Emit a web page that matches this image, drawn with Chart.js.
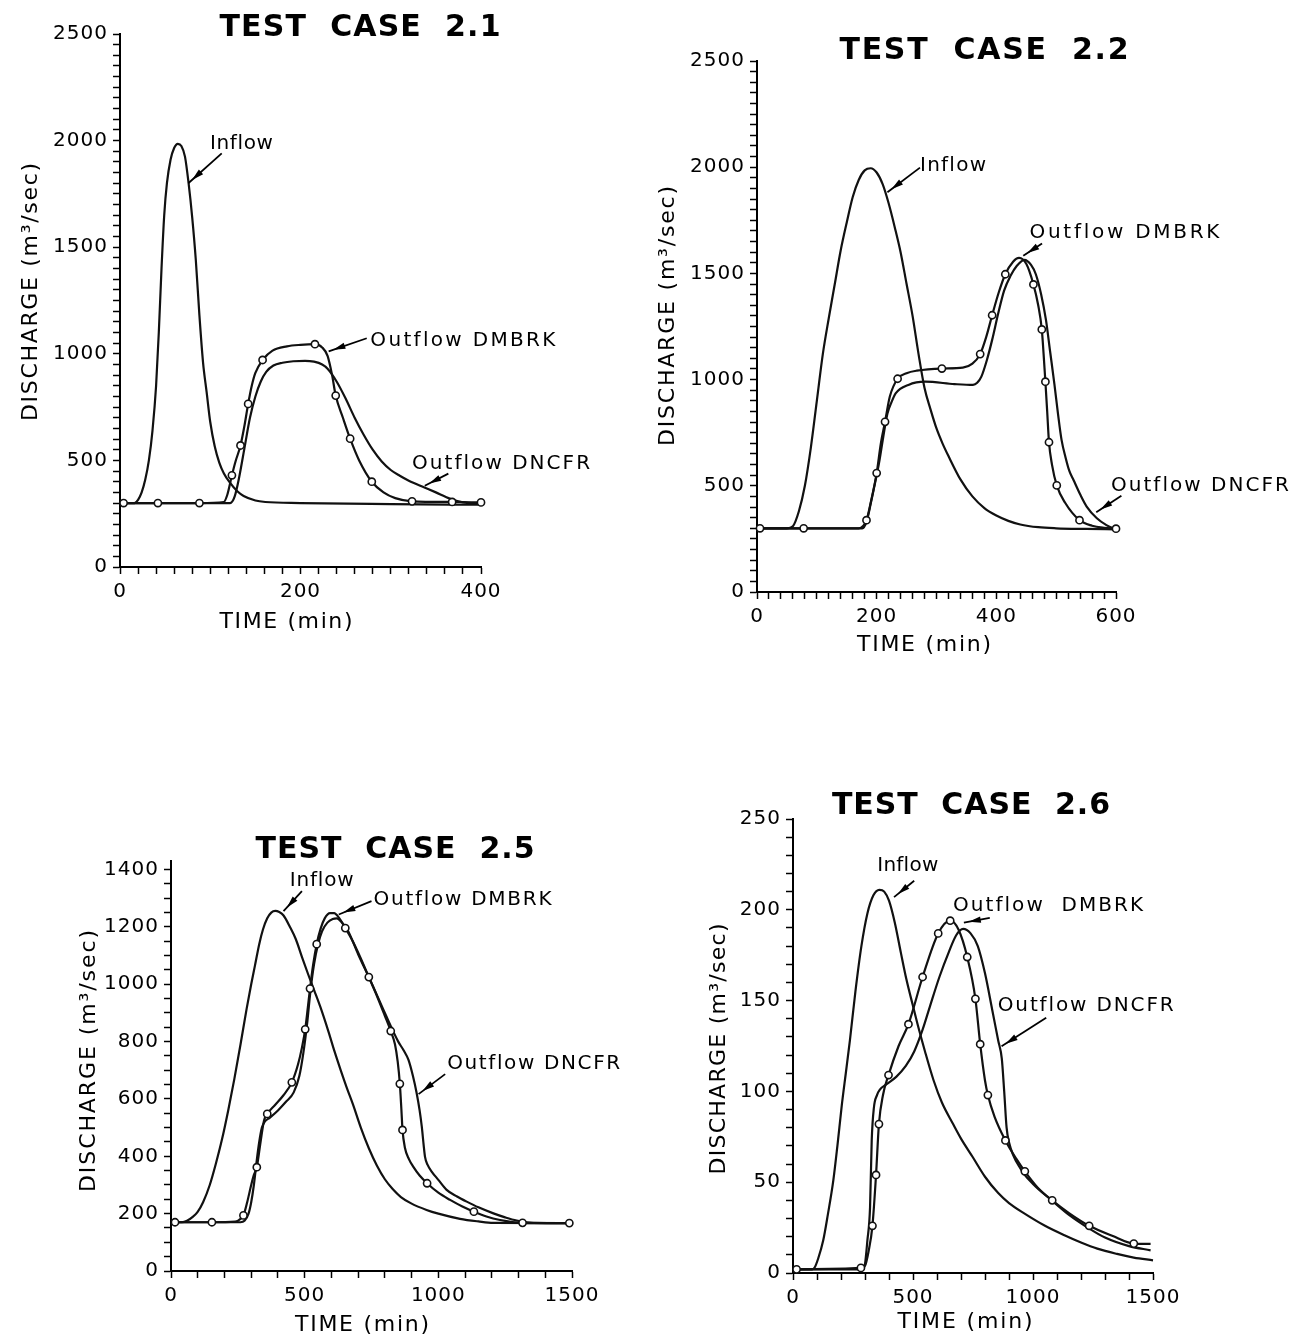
<!DOCTYPE html>
<html>
<head>
<meta charset="utf-8">
<script src="https://cdn.jsdelivr.net/npm/chart.js@4.4.0/dist/chart.umd.min.js"></script>
<style>
html,body{margin:0;padding:0;background:#fff;}
body{width:1292px;height:1340px;position:relative;overflow:hidden;}
canvas{position:absolute;}
</style>
</head>
<body>
<canvas id="c1" width="640" height="660" style="left:0;top:0"></canvas>
<canvas id="c2" width="652" height="660" style="left:640px;top:0"></canvas>
<canvas id="c3" width="640" height="680" style="left:0;top:660px"></canvas>
<canvas id="c4" width="652" height="680" style="left:640px;top:660px"></canvas>
<script>
// ---------------- DATA ----------------
const titles = ['TEST  CASE  2.1', 'TEST  CASE  2.2', 'TEST  CASE  2.5', 'TEST  CASE  2.6'];
const yAxisTitle = 'DISCHARGE (m³/sec)';
const xAxisTitle = 'TIME (min)';

// Test case 2.1
const p1InflowT = [0,16,20,24,28,32,36,40,43,46,49,52,56,60,64,68,72,76,80,84,88,92,96,100,105,110,115,121,130,137,150,161,200,300,400];
const p1InflowQ = [300,300,315,350,410,500,640,850,1100,1400,1650,1800,1910,1965,1985,1975,1925,1800,1640,1440,1180,960,820,680,565,490,440,400,355,333,312,305,300,295,292];
const p1DmbrkT = [0,4,42,88,115,119,124,128,133.5,138,142,146,150,158,169,185,200,216,224,230,235,239,247,255,265,279,292,305,323.6,368,400];
const p1DmbrkQ = [300,300,300,300,305,340,430,495,570,665,765,850,910,971,1015,1035,1042,1045,1030,990,900,804,700,602,500,400,350,323,308,305,303];
const p1DmbrkMarks = [4,42,88,124,133.5,142,158,216,239,255,279,323.6,368,400];
const p1DncfrT = [0,122,127,132,138,144,150,156,162,170,180,192,205,215,224,230,240,250,260,270,280,290,300,310,320,338,350,366,380,400];
const p1DncfrQ = [300,300,330,420,560,700,800,870,915,945,958,965,967,963,950,930,870,790,700,620,550,495,455,428,405,372,350,320,303,296];
const p1XLabels = [0,200,400];
const p1YLabels = [0,500,1000,1500,2000,2500];

// Test case 2.2
const p2InflowT = [0,50,60,70,80,90,100,110,120,130,140,150,160,170,180,190,200,210,220,230,240,250,260,270,280,290,300,310,320,340,360,380,400,420,440,470,500,550,600];
const p2InflowQ = [300,300,310,380,500,680,900,1120,1290,1450,1610,1740,1860,1940,1985,1995,1975,1920,1830,1720,1600,1450,1300,1120,960,860,770,700,640,530,450,395,360,335,318,305,300,297,295];
const p2DmbrkT = [0,5,78,170,183,190,200,207,214,222,235,250,267,309,344,360,373,383,393,404,415,428,438,450,462,470,476,479,482,485,488,493,501,515,539,560,580,600];
const p2DmbrkQ = [300,300,300,300,338,420,560,700,801,920,1004,1030,1042,1052,1056,1075,1120,1200,1303,1410,1496,1555,1573,1545,1448,1350,1236,1120,990,850,705,600,502,420,338,312,302,298];
const p2DmbrkMarks = [5,78,183,200,214,235,309,373,393,415,462,476,482,488,501,539,600];
const p2DncfrT = [0,176,183,190,197,204,211,218,225,232,253,281,330,361,368,375,384,393,403,413,424,434,447,458,466,475,483,490,497,503,509,516,522,529,540,551,568,584,596,600];
const p2DncfrQ = [300,300,330,415,510,608,730,840,895,936,975,990,979,975,985,1014,1090,1187,1310,1419,1490,1535,1564,1540,1496,1400,1280,1130,980,840,716,630,570,527,460,402,347,315,300,298];
const p2XLabels = [0,200,400,600];
const p2YLabels = [0,500,1000,1500,2000,2500];

// Test case 2.5
const p3InflowT = [0,40,60,80,99,120,145,168,191,214,237,260,283,300,314,330,344,360,375,390,405,421,445,467,490,513,536,559,589,612,635,658,681,710,740,770,800,830,860,900,956,1000,1081,1150,1205,1500];
const p3InflowQ = [170,170,175,188,205,240,300,375,460,560,670,790,915,1000,1065,1140,1191,1230,1250,1256,1252,1240,1200,1157,1095,1035,978,920,835,765,700,638,580,500,428,368,320,285,258,235,213,200,182,173,168,167];
const p3DmbrkT = [0,15,153,240,260,271,285,300,310,321,335,348,360,390,420,452,475,490,502,512,520,532,545,560,575,595,610,630,652,680,710,740,770,800,822,838,848,856,862,866,875,890,906,930,958,1000,1044,1090,1133,1180,1231,1315,1400,1490];
const p3DmbrkQ = [170,170,170,172,182,194,240,300,335,362,450,525,548,580,612,658,720,780,843,920,985,1070,1140,1195,1230,1248,1248,1230,1196,1150,1090,1025,960,890,837,790,730,653,560,492,430,390,364,333,306,273,248,225,207,190,178,168,167,167];
const p3DmbrkMarks = [15,153,271,321,360,452,502,520,545,652,740,822,856,866,958,1133,1315,1490];
const p3DncfrT = [0,260,275,290,300,310,320,330,340,350,370,400,430,459,480,495,510,522,535,550,565,585,605,620,640,660,700,750,800,850,870,888,905,919,930,938,945,950,960,975,1000,1031,1070,1106,1150,1206,1250,1293,1356,1500];
const p3DncfrQ = [170,170,175,200,240,300,380,450,500,520,535,560,590,623,680,760,870,980,1070,1140,1185,1215,1228,1230,1215,1190,1105,1005,900,800,770,737,680,620,560,504,440,399,370,347,318,283,260,242,222,201,187,176,168,167];
const p3XLabels = [0,500,1000,1500];
const p3YLabels = [0,200,400,600,800,1000,1200,1400];

// Test case 2.6
const p4InflowT = [0,80,90,105,126,145,168,185,203,220,237,260,285,310,335,360,380,400,424,450,472,500,521,550,586,620,667,700,748,800,855,900,965,1050,1131,1200,1268,1350,1420,1500];
const p4InflowQ = [2,2,3,8,18,32,51,70,92,110,128,155,180,198,208,211,210,205,193,176,162,147,136,122,106,94,82,74,64,53,44,38.5,32.7,26,20.8,16.8,13.4,10.5,8.5,7];
const p4DmbrkT = [0,15,283,300,315,331,346,358,375,398,440,481,540,605,655,690,726,760,780,800,812,840,885,930,966,1020,1080,1150,1234,1330,1420,1490];
const p4DmbrkQ = [2,2,2.8,4,12,26,54,82,98,109,125,137,163,187,194,189,174,151,126,106,98,86,73,63,56,47,40,33,26,20.5,16.2,16];
const p4DmbrkMarks = [15,283,331,346,358,398,481,540,605,655,726,760,780,812,885,966,1080,1234,1420];
const p4DncfrT = [0,290,300,310,321,328,337,350,362,390,430,470,505,540,571,610,650,680,709,740,770,800,830,855,870,880,890,900,950,1000,1078,1150,1234,1300,1400,1490];
const p4DncfrQ = [2,2,5,18,36,73,91,98,101,104,108,114,122,134,147,163,177,186,189.5,187,180,165,145,128,118,100,80,72,57,49,40,32,24.5,19.5,14.8,12.5];
const p4XLabels = [0,500,1000,1500];
const p4YLabels = [0,50,100,150,200,250];

// ---------------- DRAWING ----------------
const FAM = '"DejaVu Sans", "Liberation Sans", sans-serif';
Chart.defaults.font.family = FAM;
Chart.defaults.color = '#000';

function series(T, Q) { return T.map((t, i) => ({x: t, y: Q[i]})); }

function spaced(ctx, text, x, y, font, width, rot, align) {
  ctx.save();
  ctx.letterSpacing = '0px';
  ctx.font = font;
  const chars = [...text];
  const ws = chars.map(c => ctx.measureText(c).width);
  const natural = ws.reduce((a, b) => a + b, 0);
  const gap = width ? (width - natural) / Math.max(1, chars.length - 1) : 0;
  const total = natural + gap * (chars.length - 1);
  ctx.translate(x, y);
  ctx.rotate(rot || 0);
  ctx.textBaseline = 'middle';
  ctx.textAlign = 'left';
  let cx = align === 'left' ? 0 : -total / 2;
  chars.forEach((c, i) => { ctx.fillText(c, cx, 0); cx += ws[i] + gap; });
  ctx.restore();
}

function arrow(ctx, x0, y0, x1, y1) {
  ctx.save();
  ctx.lineWidth = 1.8;
  ctx.beginPath(); ctx.moveTo(x0, y0); ctx.lineTo(x1, y1); ctx.stroke();
  const a = Math.atan2(y1 - y0, x1 - x0);
  const back = 5, L = 12, W = 3.2;
  const tx = x1 - Math.cos(a) * back, ty = y1 - Math.sin(a) * back;
  const bx = tx - Math.cos(a) * L, by = ty - Math.sin(a) * L;
  ctx.beginPath();
  ctx.moveTo(tx, ty);
  ctx.lineTo(bx - Math.sin(a) * W, by + Math.cos(a) * W);
  ctx.lineTo(bx + Math.sin(a) * W, by - Math.cos(a) * W);
  ctx.closePath(); ctx.fill();
  ctx.restore();
}

const overlayPlugin = {
  id: 'overlay',
  beforeDraw(chart) { chart.ctx.letterSpacing = '1px'; },
  afterDraw(chart, args, o) {
    const ctx = chart.ctx, xs = chart.scales.x, ys = chart.scales.y;
    ctx.save();
    ctx.fillStyle = '#000'; ctx.strokeStyle = '#000';
    spaced(ctx, o.title, o.titlePos[0] - o.off[0], o.titlePos[1] - o.off[1], 'bold 30px ' + FAM, o.titlePos[2], 0, 'center');
    spaced(ctx, xAxisTitle, o.xTitlePos[0] - o.off[0], o.xTitlePos[1] - o.off[1], '22px ' + FAM, o.xTitlePos[2], 0, 'center');
    spaced(ctx, yAxisTitle, o.yTitlePos[0] - o.off[0], o.yTitlePos[1] - o.off[1], '22px ' + FAM, o.yTitlePos[2], -Math.PI / 2, 'center');
    for (const n of o.notes) {
      spaced(ctx, n.text, xs.getPixelForValue(n.x), ys.getPixelForValue(n.y), '20px ' + FAM, n.w, 0, 'left');
      arrow(ctx, xs.getPixelForValue(n.a[0]), ys.getPixelForValue(n.a[1]), xs.getPixelForValue(n.a[2]), ys.getPixelForValue(n.a[3]));
    }
    ctx.restore();
    ctx.letterSpacing = '0px';
  }
};

function lineDs(data, marks) {
  return {
    data: data,
    borderColor: '#111', borderWidth: 2.2,
    cubicInterpolationMode: 'monotone', fill: false, clip: 12,
    pointRadius: marks ? (c => (c.raw && marks.includes(c.raw.x)) ? 3.6 : 0) : 0,
    pointHoverRadius: 0,
    pointBackgroundColor: '#fff', pointBorderColor: '#111', pointBorderWidth: 1.6
  };
}

function makeChart(id, P) {
  new Chart(document.getElementById(id), {
    type: 'line',
    data: {datasets: [
      lineDs(series(P.dmT, P.dmQ), P.marks),
      lineDs(series(P.dnT, P.dnQ)),
      lineDs(series(P.inT, P.inQ))
    ]},
    options: {
      responsive: false, animation: false, events: [],
      layout: {padding: {left: 0, top: P.padTop, right: P.padRight, bottom: 0}},
      plugins: {legend: {display: false}, tooltip: {enabled: false}, title: {display: false}, overlay: P.overlay},
      scales: {
        x: {
          type: 'linear', min: 0, max: P.xMax,
          afterFit: s => { s.height = P.xH; },
          ticks: {stepSize: P.xStep, autoSkip: false, maxRotation: 0, minRotation: 0, color: '#000',
            font: {size: 20}, padding: 6, includeBounds: false,
            callback: v => P.xLabels.includes(v) ? String(v) : ''},
          grid: {drawOnChartArea: false, drawTicks: true, tickLength: 7, tickColor: '#000', tickWidth: 1.5},
          border: {display: true, color: '#000', width: 2}
        },
        y: {
          type: 'linear', min: 0, max: P.yMax,
          afterFit: s => { s.width = P.yW; },
          afterBuildTicks: s => { s.ticks = s.ticks.filter(t => Math.abs(t.value / P.yStep - Math.round(t.value / P.yStep)) < 1e-6); },
          ticks: {stepSize: P.yStep, autoSkip: false, color: '#000', font: {size: 20}, padding: 5, includeBounds: false,
            callback: v => P.yLabels.includes(v) ? String(v) : ''},
          grid: {drawOnChartArea: false, drawTicks: true, tickLength: 7, tickColor: '#000', tickWidth: 1.5},
          border: {display: true, color: '#000', width: 2}
        }
      }
    },
    plugins: [overlayPlugin]
  });
}

makeChart('c1', {
  inT: p1InflowT, inQ: p1InflowQ, dmT: p1DmbrkT, dmQ: p1DmbrkQ, marks: p1DmbrkMarks, dnT: p1DncfrT, dnQ: p1DncfrQ,
  xLabels: p1XLabels, yLabels: p1YLabels,
  xMax: 400, xStep: 20, yMax: 2500, yStep: 50,
  padTop: 34, padRight: 159, yW: 120, xH: 93,
  overlay: {off: [0, 0], title: titles[0], titlePos: [360, 28, 281], xTitlePos: [286, 622, 133], yTitlePos: [31, 292, 258],
    notes: [
      {text: 'Inflow', x: 99.7, y: 1987, w: 63, a: [112.7, 1940, 75.7, 1800]},
      {text: 'Outflow DMBRK', x: 277.4, y: 1063, w: 185, a: [273.4, 1073, 231.2, 1011.5]},
      {text: 'Outflow DNCFR', x: 323.6, y: 482.7, w: 178, a: [363.8, 438, 337.7, 380.8]}
    ]}
});

makeChart('c2', {
  inT: p2InflowT, inQ: p2InflowQ, dmT: p2DmbrkT, dmQ: p2DmbrkQ, marks: p2DmbrkMarks, dnT: p2DncfrT, dnQ: p2DncfrQ,
  xLabels: p2XLabels, yLabels: p2YLabels,
  xMax: 600, xStep: 20, yMax: 2500, yStep: 50,
  padTop: 61, padRight: 176, yW: 117, xH: 68,
  overlay: {off: [640, 0], title: titles[1], titlePos: [984, 51, 289], xTitlePos: [924, 645, 134], yTitlePos: [668, 316, 260],
    notes: [
      {text: 'Inflow', x: 272.4, y: 2008, w: 66, a: [272.4, 1998, 218, 1882]},
      {text: 'Outflow DMBRK', x: 455.4, y: 1689, w: 190, a: [476.4, 1641, 445, 1583]},
      {text: 'Outflow DNCFR', x: 591.6, y: 502, w: 178, a: [609, 453.7, 567, 376]}
    ]}
});

makeChart('c3', {
  inT: p3InflowT, inQ: p3InflowQ, dmT: p3DmbrkT, dmQ: p3DmbrkQ, marks: p3DmbrkMarks, dnT: p3DncfrT, dnQ: p3DncfrQ,
  xLabels: p3XLabels, yLabels: p3YLabels,
  xMax: 1500, xStep: 100, yMax: 1430, yStep: 50,
  padTop: 201, padRight: 68, yW: 171, xH: 69,
  overlay: {off: [0, 660], title: titles[2], titlePos: [395, 850, 279], xTitlePos: [362, 1325, 134], yTitlePos: [89, 1061, 262],
    notes: [
      {text: 'Inflow', x: 443.9, y: 1359.5, w: 64, a: [489.8, 1324.7, 420.9, 1255]},
      {text: 'Outflow DMBRK', x: 757.6, y: 1295.7, w: 178, a: [750, 1290, 627.5, 1243.5]},
      {text: 'Outflow DNCFR', x: 1033, y: 721.5, w: 173, a: [1025.5, 686.7, 926, 617]}
    ]}
});

makeChart('c4', {
  inT: p4InflowT, inQ: p4InflowQ, dmT: p4DmbrkT, dmQ: p4DmbrkQ, marks: p4DmbrkMarks, dnT: p4DncfrT, dnQ: p4DncfrQ,
  xLabels: p4XLabels, yLabels: p4YLabels,
  xMax: 1500, xStep: 100, yMax: 250, yStep: 10,
  padTop: 159, padRight: 139, yW: 153, xH: 67,
  overlay: {off: [640, 660], title: titles[3], titlePos: [971, 806, 278], xTitlePos: [965, 1322, 135], yTitlePos: [719, 1049, 251],
    notes: [
      {text: 'Inflow', x: 351, y: 224, w: 61, a: [505, 216, 421, 207]},
      {text: 'Outflow  DMBRK', x: 667, y: 202, w: 190, a: [820, 195.5, 712, 193]},
      {text: 'Outflow DNCFR', x: 853, y: 147, w: 176, a: [1055, 140.5, 869, 124.8]}
    ]}
});
</script>
</body>
</html>
